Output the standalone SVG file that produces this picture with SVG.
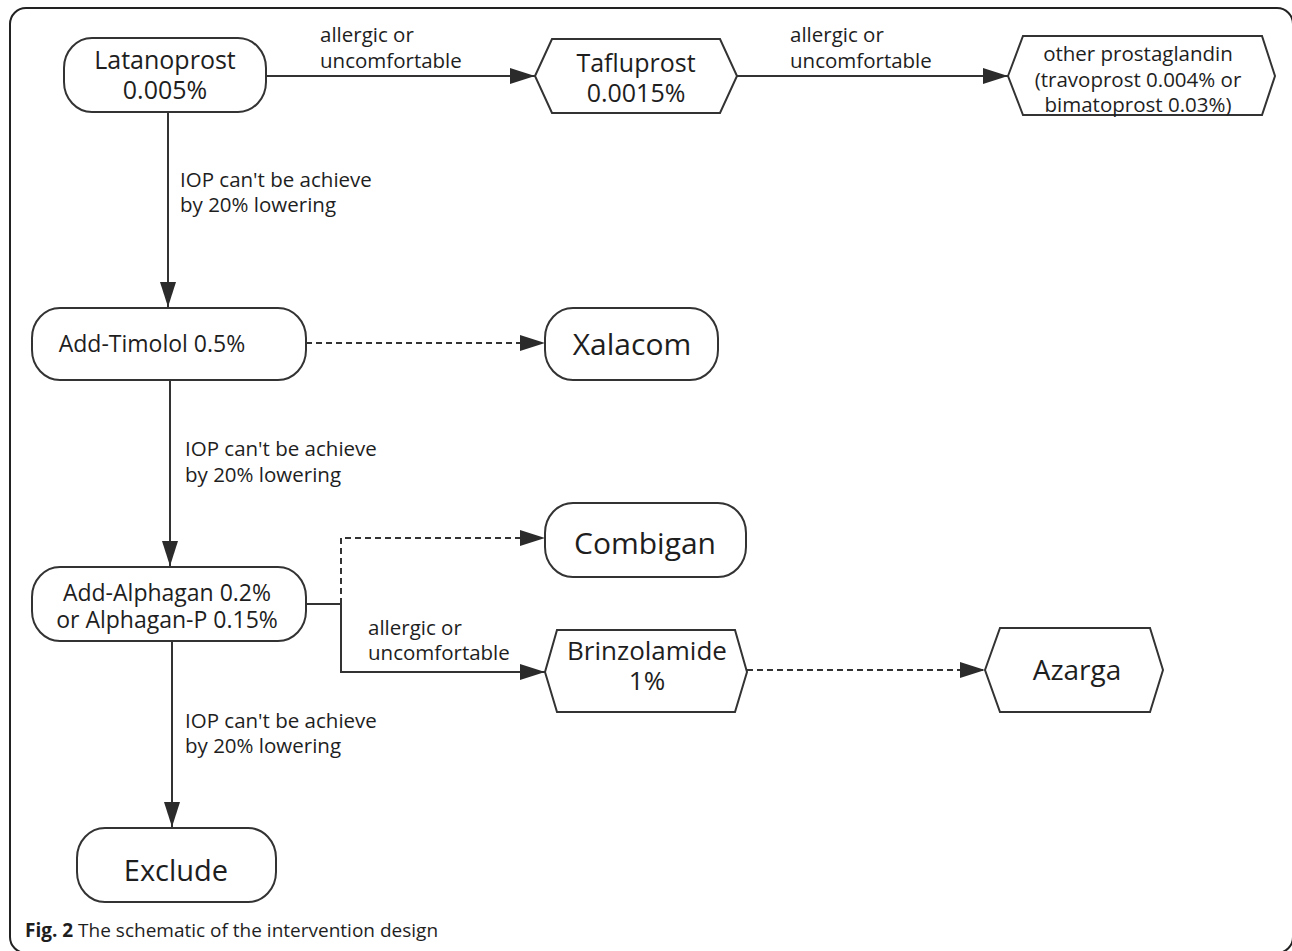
<svg xmlns="http://www.w3.org/2000/svg" width="1292" height="951" viewBox="0 0 1292 951">
<defs>
<marker id="ah" viewBox="0 0 25 16" refX="25" refY="8" markerWidth="25" markerHeight="16" markerUnits="userSpaceOnUse" orient="auto">
<path d="M0,0 L25,8 L0,16 z" fill="#2b2b2b"/>
</marker>
<style>
.n{fill:#fff;stroke:#333;stroke-width:2}
.t{font-family:"Open Sans","Noto Sans",sans-serif;fill:#1e1e1e;text-anchor:middle}
.l{font-family:"Open Sans","Noto Sans",sans-serif;fill:#1e1e1e;font-size:20.5px}
.c{fill:none;stroke:#333;stroke-width:2}
.d{stroke-dasharray:6 4}
</style>
</defs>
<rect x="10" y="8" width="1283" height="945" rx="16" ry="16" fill="none" stroke="#222" stroke-width="2"/>
<g id="connectors">
<path class="c" d="M266,76 H535" marker-end="url(#ah)"/>
<path class="c" d="M737,76 H1008" marker-end="url(#ah)"/>
<path class="c" d="M168,112 V307" marker-end="url(#ah)"/>
<path class="c d" d="M306,343 H545" marker-end="url(#ah)"/>
<path class="c" d="M170,380 V566" marker-end="url(#ah)"/>
<path class="c" d="M306,604 H341"/>
<path class="c d" d="M341,604 V538 H545" marker-end="url(#ah)"/>
<path class="c" d="M341,604 V672 H545" marker-end="url(#ah)"/>
<path class="c d" d="M747,670 H985" marker-end="url(#ah)"/>
<path class="c" d="M172,641 V827" marker-end="url(#ah)"/>
<text class="l" x="320" y="42">allergic or<tspan x="320" dy="26">uncomfortable</tspan></text>
<text class="l" x="790" y="42">allergic or<tspan x="790" dy="26">uncomfortable</tspan></text>
<text class="l" x="180" y="187">IOP can't be achieve<tspan x="180" dy="25">by 20% lowering</tspan></text>
<text class="l" x="185" y="456">IOP can't be achieve<tspan x="185" dy="26">by 20% lowering</tspan></text>
<text class="l" x="368" y="635">allergic or<tspan x="368" dy="25">uncomfortable</tspan></text>
<text class="l" x="185" y="728">IOP can't be achieve<tspan x="185" dy="25">by 20% lowering</tspan></text>
</g>
<g id="latanoprost">
<rect class="n" x="64" y="38" width="202" height="74" rx="28" ry="30"/>
<text class="t" font-size="25" x="165" y="69">Latanoprost<tspan x="165" dy="30">0.005%</tspan></text>
</g>
<g id="tafluprost">
<polygon class="n" points="535,76 552,39 720,39 737,76 720,113 552,113"/>
<text class="t" font-size="25" x="636" y="72">Tafluprost<tspan x="636" dy="30">0.0015%</tspan></text>
</g>
<g id="other">
<polygon class="n" points="1008,76 1023,36 1262,36 1275,76 1262,115 1023,115"/>
<text class="t" font-size="20.5" x="1138" y="61">other prostaglandin<tspan x="1138" dy="26">(travoprost 0.004% or</tspan><tspan x="1138" dy="25">bimatoprost 0.03%)</tspan></text>
</g>
<g id="timolol">
<rect class="n" x="32" y="308" width="274" height="72" rx="28" ry="30"/>
<text class="t" font-size="23" x="152" y="352">Add-Timolol 0.5%</text>
</g>
<g id="xalacom">
<rect class="n" x="545" y="308" width="173" height="72" rx="28" ry="30"/>
<text class="t" font-size="30" x="632" y="355">Xalacom</text>
</g>
<g id="alphagan">
<rect class="n" x="32" y="567" width="274" height="74" rx="28" ry="30"/>
<text class="t" font-size="23" x="167" y="601">Add-Alphagan 0.2%<tspan x="167" dy="27">or Alphagan-P 0.15%</tspan></text>
</g>
<g id="combigan">
<rect class="n" x="545" y="503" width="201" height="74" rx="28" ry="30"/>
<text class="t" font-size="30" x="645" y="554">Combigan</text>
</g>
<g id="brinzolamide">
<polygon class="n" points="545,672 557,630 735,630 747,672 735,712 557,712"/>
<text class="t" font-size="26" x="647" y="660">Brinzolamide<tspan x="647" dy="30">1%</tspan></text>
</g>
<g id="azarga">
<polygon class="n" points="985,670 1000,628 1150,628 1163,670 1150,712 1000,712"/>
<text class="t" font-size="28" x="1077" y="680">Azarga</text>
</g>
<g id="exclude">
<rect class="n" x="77" y="828" width="199" height="74" rx="28" ry="30"/>
<text class="t" font-size="29" x="176" y="881">Exclude</text>
</g>
<text x="25" y="937" font-family="'Open Sans','Noto Sans',sans-serif" font-size="19" fill="#1e1e1e"><tspan font-weight="bold">Fig. 2</tspan> The schematic of the intervention design</text>
</svg>
